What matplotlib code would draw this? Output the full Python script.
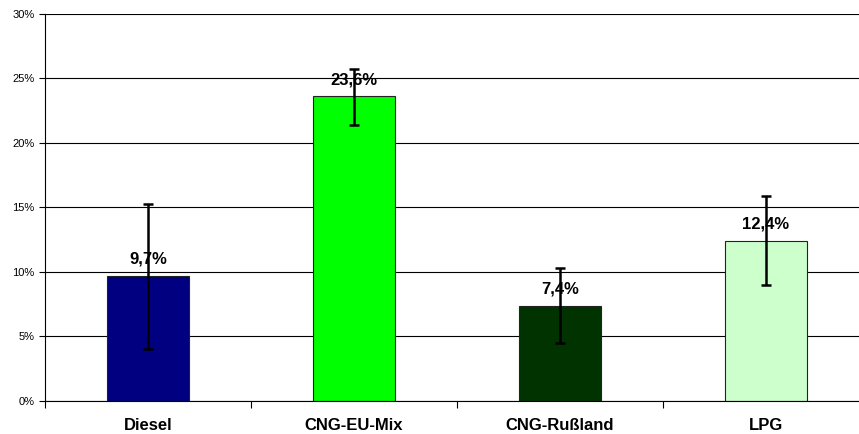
import matplotlib
matplotlib.use("Agg")
import matplotlib.pyplot as plt
from matplotlib.ticker import FuncFormatter, FixedLocator

plt.rcParams["font.family"] = ["Liberation Sans", "DejaVu Sans"]

# Data
categories = ["Diesel", "CNG-EU-Mix", "CNG-Rußland", "LPG"]
values = [9.7, 23.6, 7.4, 12.4]
err_low = [4.0, 21.4, 4.5, 9.0]
err_high = [15.3, 25.7, 10.3, 15.9]
labels = ["9,7%", "23,6%", "7,4%", "12,4%"]
colors = ["#000080", "#00FF00", "#003300", "#CCFFCC"]

fig = plt.figure(figsize=(8.59, 4.34), dpi=100)
# axes runs slightly past the right edge, as in the original export
ax = fig.add_axes([0.0524, 0.076, 0.959, 0.892])

x = list(range(len(categories)))
yerr = [[v - lo for v, lo in zip(values, err_low)],
        [hi - v for v, hi in zip(values, err_high)]]

ax.bar(x, values, width=0.40, color=colors, edgecolor="#222222",
       linewidth=0.8, zorder=2)
ax.errorbar(x, values, yerr=yerr, fmt="none", ecolor="black",
            elinewidth=1.8, capsize=3.5, capthick=1.8, zorder=3)

for xi, v, lab in zip(x, values, labels):
    ax.text(xi, v + 0.7, lab, ha="center", va="bottom",
            fontsize=12, fontweight="bold", zorder=4)

ax.set_xlim(-0.5, 3.5)
ax.set_ylim(0, 30)
ax.set_yticks([0, 5, 10, 15, 20, 25, 30])
ax.yaxis.set_major_formatter(FuncFormatter(lambda v, p: f"{int(v)}%"))
ax.tick_params(axis="y", labelsize=8, length=4, width=0.8, direction="out")
ax.grid(axis="y", color="black", linewidth=0.8, zorder=0)
ax.set_axisbelow(True)

ax.set_xticks(x)
ax.set_xticklabels(categories, fontsize=12, fontweight="bold")
ax.tick_params(axis="x", length=0, pad=12)
ax.xaxis.set_minor_locator(FixedLocator([-0.5, 0.5, 1.5, 2.5, 3.5]))
ax.tick_params(axis="x", which="minor", length=5, width=0.8, direction="out")

for side in ["top", "right"]:
    ax.spines[side].set_visible(False)
ax.spines["left"].set_linewidth(0.8)
ax.spines["bottom"].set_linewidth(0.8)

fig.savefig("out.png", dpi=100)
